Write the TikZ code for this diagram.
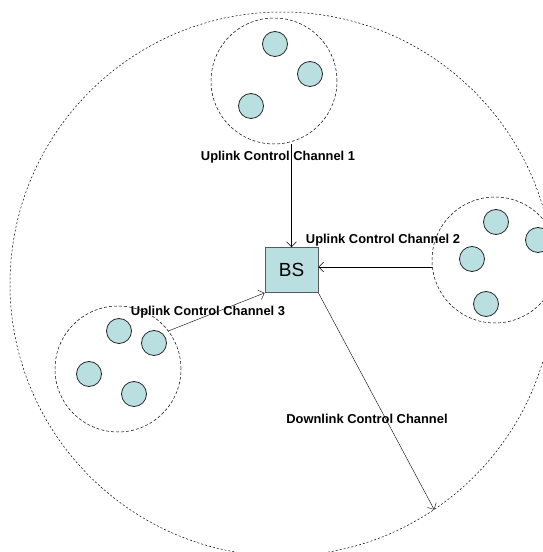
\documentclass[tikz,border=0pt]{standalone}
\usepackage{fontspec}
\setmainfont{Liberation Sans}
\usetikzlibrary{arrows.meta}
\definecolor{uefill}{RGB}{186,223,225}
\definecolor{bsedge}{RGB}{90,90,90}

\begin{document}
\begin{tikzpicture}[x=1pt, y=1pt, >={Straight Barb[length=5pt, width=10pt]},
        ue/.style={circle, draw=black!85, fill=uefill, line width=0.8pt, minimum size=25pt, inner sep=0pt},
        group/.style={circle, draw, dash pattern=on 3pt off 2pt, line width=0.5pt, minimum size=126pt, inner sep=0pt},
        lbl/.style={font=\bfseries\fontsize{12.9}{14}\selectfont, inner sep=0pt}]
        \useasboundingbox (0, 0) rectangle (543, 552);
        % cell border
        \node (cell) at (282, 268) [circle, draw, dash pattern=on 2pt off 2pt, line width=0.5pt, minimum size=544pt, inner sep=0pt] {};
        % base station
        \node (bs) at (291.5, 282) [draw=bsedge, fill=uefill, line width=0.9pt, minimum width=53pt, minimum height=45pt, inner sep=0pt, font=\fontsize{19}{22}\selectfont] {BS};
        % user groups
        \node (g1) at (274, 471) [group] {};
        \node (g2) at (495, 292) [group] {};
        \node (g3) at (118, 183) [group] {};
        \node (u11) at (275, 508) [ue] {};
        \node (u12) at (310, 478) [ue] {};
        \node (u13) at (251, 446) [ue] {};
        \node (u21) at (496, 330) [ue] {};
        \node (u22) at (538, 312) [ue] {};
        \node (u23) at (472, 293) [ue] {};
        \node (u24) at (486, 248) [ue] {};
        \node (u31) at (119, 221) [ue] {};
        \node (u32) at (154, 209) [ue] {};
        \node (u33) at (89, 178) [ue] {};
        \node (u34) at (134, 158) [ue] {};
        % channels
        \draw [->] (g1.south -| bs.north) -- (bs.north);
        \draw [->] ([yshift=3pt] g2.west |- bs.east) -- ([yshift=3pt] bs.east);
        \draw [->] (g3.37) -- (bs.south west);
        \draw [->] (bs.south east) -- (cell.-56);
        \node (l1) at (278, 395) [lbl] {Uplink Control Channel 1};
        \node (l2) at (383, 312) [lbl] {Uplink Control Channel 2};
        \node (l3) at (208, 240) [lbl] {Uplink Control Channel 3};
        \node (dl) at (367, 133) [lbl] {Downlink Control Channel};
\end{tikzpicture}
\end{document}
